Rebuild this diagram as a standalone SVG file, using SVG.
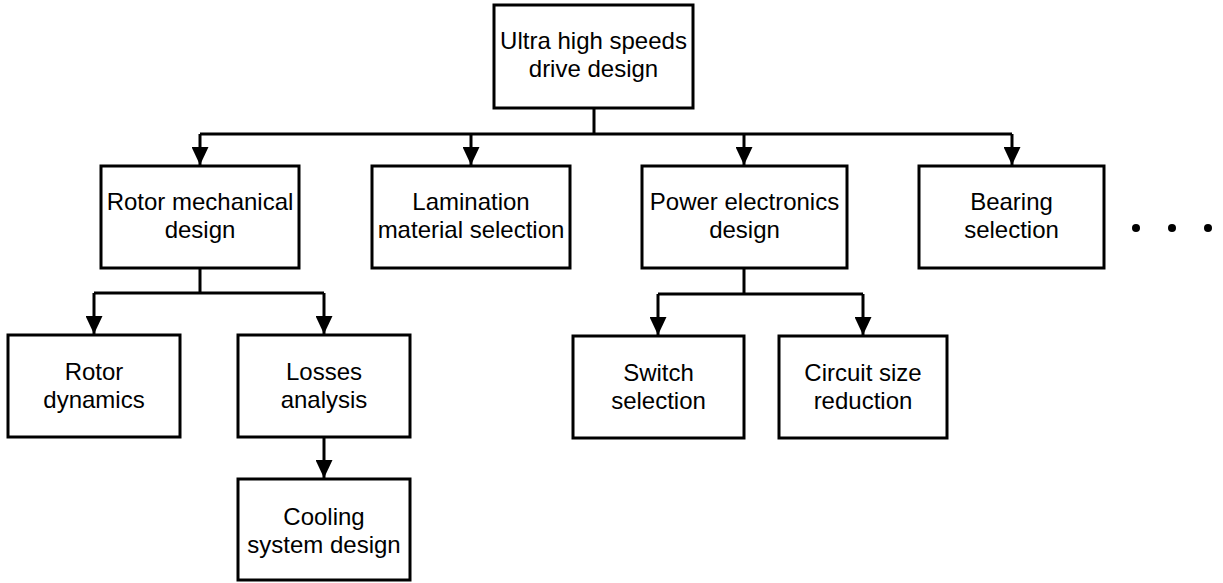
<svg xmlns="http://www.w3.org/2000/svg" width="1223" height="583" viewBox="0 0 1223 583">
<style>
.box{fill:#fff;stroke:#000;stroke-width:3}
.t{font-family:"Liberation Sans",Arial,sans-serif;font-size:24px;fill:#000;text-anchor:middle}
.c{fill:none;stroke:#000;stroke-width:3}
</style>
<defs>
<marker id="ah" markerUnits="userSpaceOnUse" markerWidth="19" markerHeight="17" viewBox="0 0 19 17" refX="18" refY="8.5" orient="auto">
<path d="M0,0 L18,8.5 L0,17 Z" fill="#000"/>
</marker>
</defs>
<rect width="1223" height="583" fill="#fff"/>
<g id="connectors">
<path class="c" d="M594,108 V134 M200,134 H1012"/>
<path class="c" d="M200,134 V165" marker-end="url(#ah)"/>
<path class="c" d="M471,134 V165" marker-end="url(#ah)"/>
<path class="c" d="M744,134 V165" marker-end="url(#ah)"/>
<path class="c" d="M1012,134 V165" marker-end="url(#ah)"/>
<path class="c" d="M200,268 V293 M94,293 H324"/>
<path class="c" d="M94,293 V334" marker-end="url(#ah)"/>
<path class="c" d="M324,293 V334" marker-end="url(#ah)"/>
<path class="c" d="M324,437 V478" marker-end="url(#ah)"/>
<path class="c" d="M744,268 V294 M658,294 H863"/>
<path class="c" d="M658,294 V335" marker-end="url(#ah)"/>
<path class="c" d="M863,294 V335" marker-end="url(#ah)"/>
</g>
<g id="n-top"><rect class="box" x="494" y="5" width="199" height="103"/><text class="t" x="593.5" y="49">Ultra high speeds</text><text class="t" x="593.5" y="77">drive design</text></g>
<g id="n-rotor"><rect class="box" x="101" y="166" width="198" height="102"/><text class="t" x="200" y="210">Rotor mechanical</text><text class="t" x="200" y="238">design</text></g>
<g id="n-lam"><rect class="box" x="372" y="166" width="198" height="102"/><text class="t" x="471" y="210">Lamination</text><text class="t" x="471" y="238">material selection</text></g>
<g id="n-power"><rect class="box" x="642" y="166" width="205" height="102"/><text class="t" x="744.5" y="210">Power electronics</text><text class="t" x="744.5" y="238">design</text></g>
<g id="n-bearing"><rect class="box" x="919" y="166" width="185" height="102"/><text class="t" x="1011.5" y="210">Bearing</text><text class="t" x="1011.5" y="238">selection</text></g>
<g id="n-dots" fill="#000"><circle cx="1136" cy="228" r="4"/><circle cx="1172" cy="228" r="4"/><circle cx="1208" cy="228" r="4"/></g>
<g id="n-dyn"><rect class="box" x="8" y="335" width="172" height="102"/><text class="t" x="94" y="380">Rotor</text><text class="t" x="94" y="408">dynamics</text></g>
<g id="n-loss"><rect class="box" x="238" y="335" width="172" height="102"/><text class="t" x="324" y="380">Losses</text><text class="t" x="324" y="408">analysis</text></g>
<g id="n-cool"><rect class="box" x="238" y="479" width="172" height="101"/><text class="t" x="324" y="525">Cooling</text><text class="t" x="324" y="553">system design</text></g>
<g id="n-switch"><rect class="box" x="573" y="336" width="171" height="102"/><text class="t" x="658.5" y="381">Switch</text><text class="t" x="658.5" y="409">selection</text></g>
<g id="n-circuit"><rect class="box" x="779" y="336" width="168" height="102"/><text class="t" x="863" y="381">Circuit size</text><text class="t" x="863" y="409">reduction</text></g>
</svg>
